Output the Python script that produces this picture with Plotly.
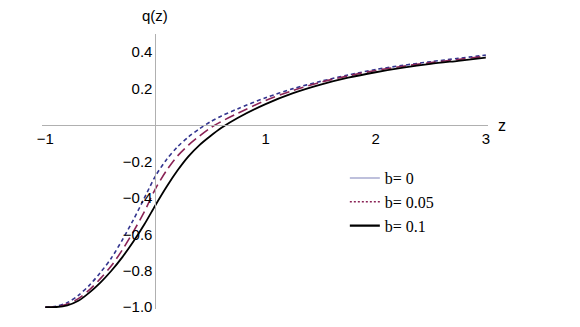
import plotly.graph_objects as go

# z sample positions
z = [-1.0, -0.9, -0.8, -0.7, -0.6, -0.5, -0.4, -0.3, -0.2, -0.1, 0.0,
     0.1, 0.2, 0.3, 0.4, 0.5, 0.6, 0.75, 1.0, 1.25, 1.5, 1.75, 2.0,
     2.25, 2.5, 2.75, 3.0]

# q(z) for b = 0
q_b0 = [-1.0, -0.995, -0.975, -0.935, -0.88, -0.81, -0.73, -0.63, -0.52,
        -0.40, -0.28, -0.19, -0.12, -0.065, -0.02, 0.018, 0.05, 0.09,
        0.15, 0.20, 0.24, 0.275, 0.305, 0.328, 0.348, 0.366, 0.384]

# q(z) for b = 0.05
q_b005 = [-1.0, -0.997, -0.983, -0.953, -0.905, -0.843, -0.773, -0.685,
          -0.585, -0.475, -0.35, -0.25, -0.17, -0.11, -0.06, -0.015, 0.02,
          0.065, 0.135, 0.19, 0.235, 0.27, 0.30, 0.323, 0.343, 0.36, 0.378]

# q(z) for b = 0.1
q_b01 = [-1.0, -0.999, -0.99, -0.965, -0.92, -0.865, -0.80, -0.725, -0.64,
         -0.545, -0.44, -0.34, -0.25, -0.172, -0.11, -0.06, -0.015, 0.04,
         0.115, 0.175, 0.222, 0.26, 0.29, 0.315, 0.336, 0.353, 0.37]

x_ticks = [-1, 1, 2, 3]
x_tick_text = ["−1", "1", "2", "3"]
y_ticks = [-1.0, -0.8, -0.6, -0.4, -0.2, 0.2, 0.4]
y_tick_text = ["−1.0", "−0.8", "−0.6", "−0.4", "−0.2", "0.2", "0.4"]
series_names = ["b= 0", "b= 0.05", "b= 0.1"]

x_range = [-1.03, 3.02]
y_range = [-1.01, 0.5]

curve_styles = [
    dict(color="#33358f", width=1.6, dash="4px,3px"),
    dict(color="#8a2356", width=1.6, dash="10px,5px"),
    dict(color="#000000", width=1.8),
]
legend_styles = [
    dict(color="#a9abd0", width=1.5),
    dict(color="#8a2356", width=1.6, dash="2px,2px"),
    dict(color="#000000", width=2.2),
]

fig = go.Figure()
for qs, st in zip([q_b0, q_b005, q_b01], curve_styles):
    fig.add_trace(go.Scatter(x=z, y=qs, mode="lines", showlegend=False,
                             line=dict(shape="spline", smoothing=0.8, **st)))
for name, st in zip(series_names, legend_styles):
    fig.add_trace(go.Scatter(x=[None], y=[None], mode="lines", name=name,
                             line=st))

axis_font = dict(family="Liberation Sans, Arial, sans-serif", size=15, color="#000")

fig.update_layout(
    width=580, height=327,
    margin=dict(l=34, r=100, t=26, b=26),
    paper_bgcolor="white", plot_bgcolor="white",
    showlegend=True,
    legend=dict(x=0.679, y=0.538, xanchor="left", yanchor="top",
                font=dict(family="Liberation Serif, Times New Roman, serif", size=16, color="#000"),
                bgcolor="rgba(0,0,0,0)", tracegroupgap=0, itemwidth=30),
    xaxis=dict(range=x_range, showgrid=False, zeroline=False, showline=True,
               linecolor="#b0b0b0", linewidth=1, anchor="free",
               position=(0 - y_range[0]) / (y_range[1] - y_range[0]),
               tickvals=x_ticks, ticktext=x_tick_text, ticks="",
               tickfont=axis_font),
    yaxis=dict(range=y_range, showgrid=False, zeroline=False, showline=True,
               linecolor="#b0b0b0", linewidth=1, anchor="free",
               position=(0 - x_range[0]) / (x_range[1] - x_range[0]),
               tickvals=y_ticks, ticktext=y_tick_text, ticks="",
               tickfont=axis_font),
    annotations=[
        dict(text="z", x=x_range[1], y=0, xref="x", yref="y", xanchor="left",
             yanchor="middle", xshift=8, showarrow=False,
             font=dict(family="Liberation Sans, Arial, sans-serif", size=16, color="#000")),
        dict(text="q(z)", x=0, y=1, xref="x", yref="paper", xanchor="center",
             yanchor="bottom", yshift=8, showarrow=False,
             font=dict(family="Liberation Sans, Arial, sans-serif", size=15, color="#000")),
    ],
)

fig.write_html("out.html")
